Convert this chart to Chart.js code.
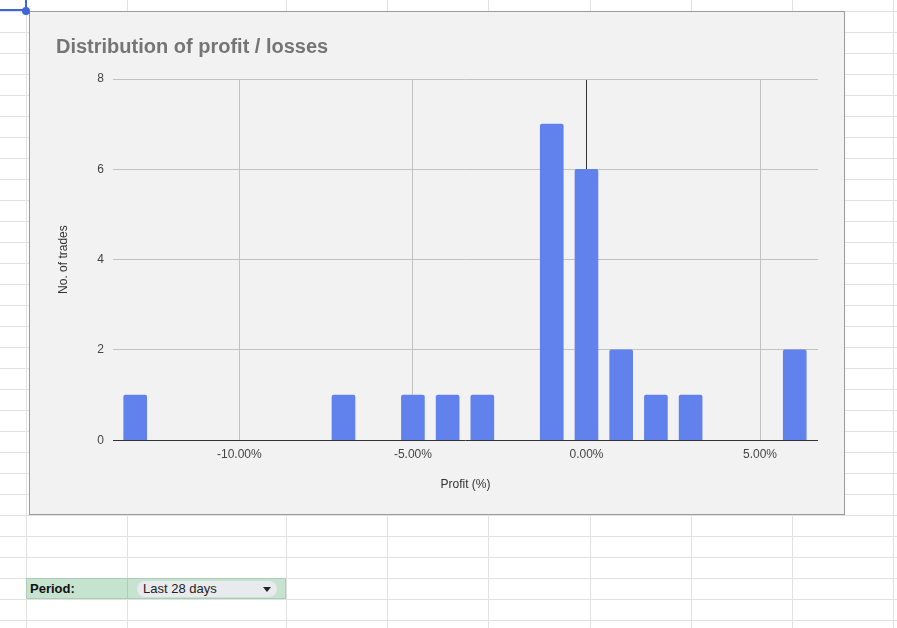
<!DOCTYPE html>
<html>
<head>
<meta charset="utf-8">
<script src="https://cdn.jsdelivr.net/npm/chart.js@4"></script>
<style>
  body { margin: 0; background: #fff; font-family: "Liberation Sans", Arial, sans-serif; }
  #sheet { position: relative; width: 897px; height: 628px; overflow: hidden; }
  .hline { position: absolute; left: 0; width: 897px; height: 1px; background: #e1e1e1; }
  .vline { position: absolute; top: 0; width: 1px; height: 628px; background: #e1e1e1; }
  #chartBox { position: absolute; left: 29px; top: 11px; width: 814px; height: 502px;
              border: 1px solid #9a9a9a; background: #f2f2f2; }
  #chartBox canvas { position: absolute; left: 0; top: 0; }
  .sel { position: absolute; background: #3d66d8; }
  #periodCell { position: absolute; left: 26px; top: 578px; width: 260px; height: 21px;
                background: #c6e3d0; border: 1px solid #a9cdb6; box-sizing: border-box; }
  #periodLabel { position: absolute; left: 30px; top: 581px; font-size: 13px; font-weight: bold; color: #111; }
  #chip { position: absolute; left: 137px; top: 581px; width: 140px; height: 16px; border-radius: 8px;
          background: #e8eaed; }
  #chipText { position: absolute; left: 143px; top: 581px; font-size: 13px; color: #222; }
  #chipArrow { position: absolute; left: 263px; top: 587px; width: 0; height: 0;
               border-left: 4px solid transparent; border-right: 4px solid transparent; border-top: 5px solid #222; }
</style>
</head>
<body>
<div id="sheet">
  <div id="chartBox"><canvas id="profitChart" width="814" height="502"></canvas></div>
  <div id="periodCell"></div>
  <div class="vline" style="left:127px; top:578px; height:21px; background:#a9cdb6;"></div>
  <div id="periodLabel">Period:</div>
  <div id="chip"></div>
  <div id="chipText">Last 28 days</div>
  <div id="chipArrow"></div>
</div>
<script>
  // Histogram data: profit bucket (%) -> number of trades
  const profitPct = [-13, -7, -5, -4, -3, -1, 0, 1, 2, 3, 6];
  const tradeCounts = [1, 1, 1, 1, 1, 7, 6, 2, 1, 1, 2];
  const xTicks = [-10, -5, 0, 5];
  const yTicks = [0, 2, 4, 6, 8];

  // Spreadsheet grid behind the chart
  const sheet = document.getElementById('sheet');
  const colLines = [26, 127, 286, 387, 488, 590, 691, 792, 893];
  colLines.forEach(x => {
    const d = document.createElement('div');
    d.className = 'vline';
    d.style.left = x + 'px';
    sheet.insertBefore(d, sheet.firstChild);
  });
  for (let y = 11; y < 628; y += 21) {
    const d = document.createElement('div');
    d.className = 'hline';
    d.style.top = y + 'px';
    sheet.insertBefore(d, sheet.firstChild);
  }
  // selected cell marker in the corner
  [['0px', '9px', '26px', '2px'], ['25px', '0px', '2px', '11px']].forEach(([l, t, w, h]) => {
    const d = document.createElement('div');
    d.className = 'sel';
    Object.assign(d.style, { left: l, top: t, width: w, height: h });
    sheet.appendChild(d);
  });
  const dot = document.createElement('div');
  dot.className = 'sel';
  Object.assign(dot.style, { left: '22px', top: '7px', width: '8px', height: '8px', borderRadius: '50%' });
  sheet.appendChild(dot);

  const font = 'Liberation Sans, Arial, sans-serif';
  const ctx = document.getElementById('profitChart').getContext('2d');
  new Chart(ctx, {
    type: 'bar',
    data: {
      datasets: [{
        data: profitPct.map((p, i) => ({ x: p, y: tradeCounts[i] })),
        backgroundColor: '#6182ed',
        barThickness: 23,
        borderRadius: 2,
        borderSkipped: 'start'
      }]
    },
    options: {
      responsive: false,
      animation: false,
      layout: { padding: { left: 26, right: 26, top: 0, bottom: 22 } },
      plugins: {
        legend: { display: false },
        tooltip: { enabled: false },
        title: {
          display: true,
          text: 'Distribution of profit / losses',
          align: 'start',
          color: '#757575',
          font: { family: font, size: 20, weight: 'bold' },
          padding: { top: 23, bottom: 20 }
        }
      },
      scales: {
        x: {
          type: 'linear',
          min: -13.64,
          max: 6.67,
          offset: false,
          afterBuildTicks: s => { s.ticks = xTicks.map(v => ({ value: v })); },
          ticks: {
            color: '#444',
            font: { family: font, size: 12 },
            padding: 7,
            maxRotation: 0,
            callback: v => v.toFixed(2) + '%'
          },
          grid: {
            offset: false,
            drawTicks: false,
            color: c => (c.tick && c.tick.value === 0) ? '#333' : '#c2c2c2'
          },
          border: { display: false },
          title: {
            display: true,
            text: 'Profit (%)',
            color: '#333',
            font: { family: font, size: 12 },
            padding: { top: 9, bottom: 0 }
          }
        },
        y: {
          min: 0,
          max: 8,
          afterBuildTicks: s => { s.ticks = yTicks.map(v => ({ value: v })); },
          afterFit: s => { s.width = 57; },
          ticks: { color: '#444', font: { family: font, size: 12 }, padding: 9 },
          grid: {
            drawTicks: false,
            color: c => (c.tick && c.tick.value === 0) ? '#333' : '#c2c2c2'
          },
          border: { display: false },
          title: {
            display: true,
            text: 'No. of trades',
            color: '#333',
            font: { family: font, size: 12 },
            padding: { top: 0, bottom: 0 }
          }
        }
      }
    }
  });
</script>
</body>
</html>
